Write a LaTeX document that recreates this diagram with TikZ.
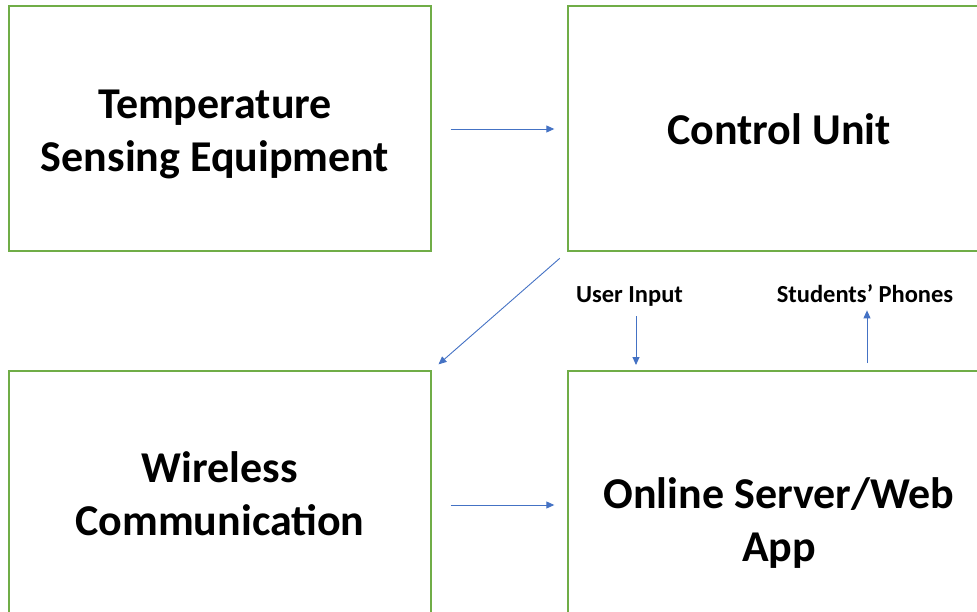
\documentclass[tikz,border=0pt]{standalone}
\usepackage{fontspec}
\setmainfont{Carlito}
\usetikzlibrary{arrows.meta}
\definecolor{boxgreen}{RGB}{112,173,71}
\definecolor{arrowblue}{RGB}{68,114,196}
\begin{document}
\begin{tikzpicture}[x=1pt,y=-1pt,
  block/.style={draw=boxgreen, line width=1.4pt, minimum width=422pt, minimum height=245pt, inner sep=0pt},
  big/.style={font=\fontsize{44}{53}\selectfont\bfseries, align=center, inner sep=0pt},
  lbl/.style={font=\fontsize{24.5}{29}\selectfont\bfseries, inner sep=0pt, anchor=base},
  arr/.style={draw=arrowblue, line width=0.9pt, -{Triangle[length=8pt,width=7pt]}}]
\useasboundingbox (0,0) rectangle (977,611);
\clip (0,0) rectangle (977,611);
% four stages of the system
\node[block] (temp) at (220,128.5) {};
\node[block] (ctrl) at (779,128.5) {};
\node[block] (wifi) at (220,493.5) {};
\node[block] (web)  at (779,493.5) {};
\node[big] (temptxt) at (215,134) {Temperature\\Sensing Equipment};
\node[big] (ctrltxt) at (779,129.5) {Control Unit};
\node[big] (wifitxt) at (220,494) {Wireless\\Communication};
\node[big] (webtxt)  at (779,523.5) {Online Server/Web\\App};
% side labels of the server
\node[lbl] (ui) at (629.5,302) {User Input};
\node[lbl] (phones) at (865,302) {Students’ Phones};
\coordinate (uiin) at (636,371);
\coordinate (phout) at (867,371);
\coordinate (top) at (0,129);
\coordinate (bot) at (0,505);
% data flow
\draw[arr, shorten <=19pt, shorten >=13pt] (temp.east |- top) -- (ctrl.west |- top);
\draw[arr, shorten <=10pt, shorten >=9pt] (ctrl.south west) -- (wifi.north east);
\draw[arr, shorten <=19pt, shorten >=13pt] (wifi.east |- bot) -- (web.west |- bot);
\draw[arr, shorten <=10pt, shorten >=6pt] (ui.south -| uiin) -- (uiin);
\draw[arr, shorten <=8pt, shorten >=8pt] (phout) -- (phones.south -| phout);
\end{tikzpicture}
\end{document}
